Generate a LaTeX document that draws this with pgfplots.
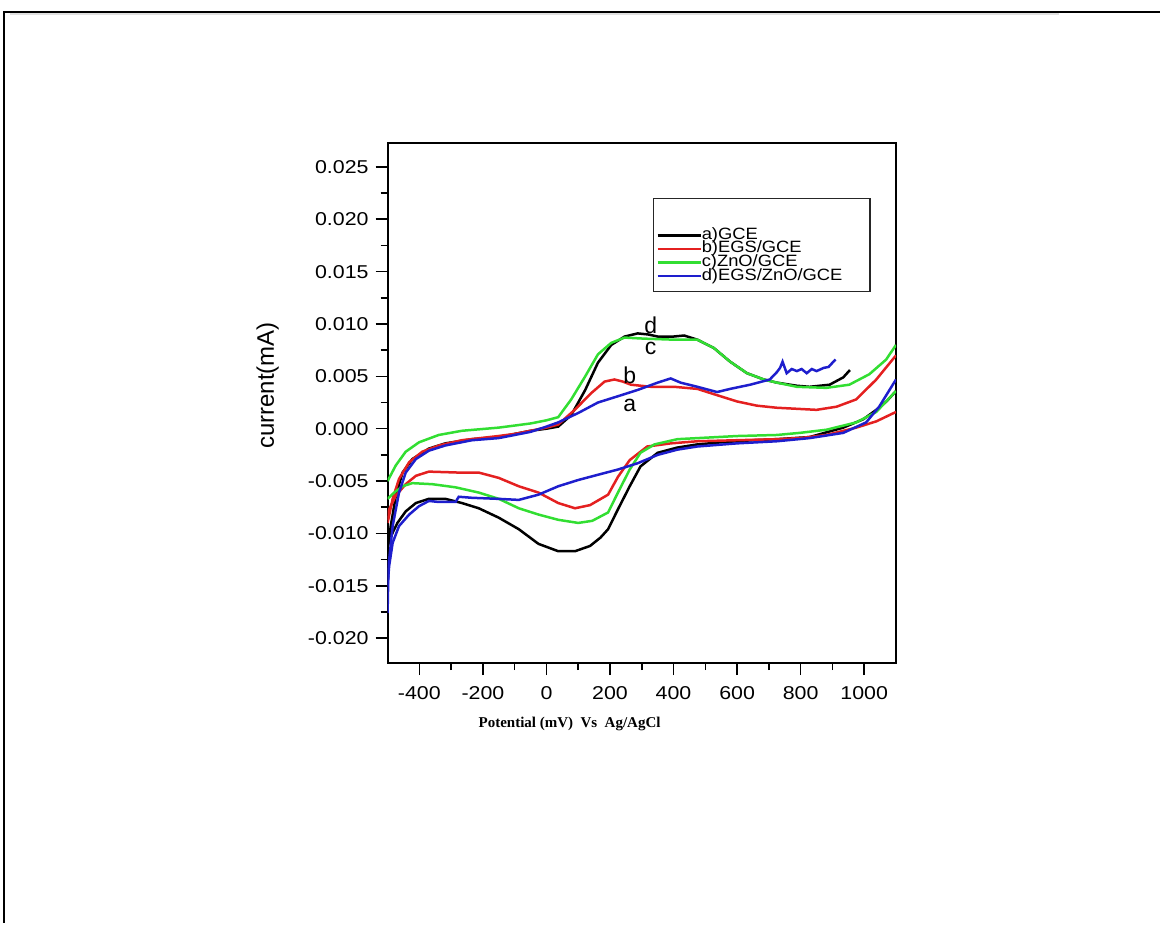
\documentclass[border=0pt]{standalone}
\usepackage{fontspec}
\setmainfont{Liberation Sans}
\newfontfamily\tickfont[FakeStretch=1.15]{Liberation Sans}
\newfontfamily\legfont[FakeStretch=1.12]{Liberation Sans}
\newfontfamily\serifb{Liberation Serif}
\usepackage{pgfplots}
\pgfplotsset{compat=1.18}
\definecolor{cvred}{RGB}{228,32,32}
\definecolor{cvgreen}{RGB}{50,222,50}
\definecolor{cvblue}{RGB}{30,30,205}

\begin{document}
\begin{tikzpicture}
% page frame (1 px = 0.5pt)
\path (0pt,0pt) rectangle (580.5pt,462pt);
\draw[line width=1.3pt] (2pt,0pt) -- (2pt,456pt) -- (580.5pt,456pt);
\draw[black!12,line width=0.8pt] (5pt,455pt) -- (530pt,455pt);
\begin{axis}[
  at={(194pt,130pt)}, anchor=south west,
  scale only axis, width=254.5pt, height=260.5pt,
  xmin=-500, xmax=1100, ymin=-0.0224, ymax=0.0273,
  xtick={-400,-200,0,200,400,600,800,1000},
  ytick={-0.020,-0.015,-0.010,-0.005,0,0.005,0.010,0.015,0.020,0.025},
  minor x tick num=1, minor y tick num=1,
  tick pos=left, tick align=outside,
  major tick length=6pt, minor tick length=3.5pt,
  every tick/.style={black,line width=0.8pt},
  axis line style={line width=1pt},
  scaled y ticks=false,
  /pgf/number format/assume math mode=true,
  /pgf/number format/1000 sep={},
  yticklabel style={/pgf/number format/.cd,fixed,fixed zerofill,precision=3},
  ticklabel style={font=\tickfont\fontsize{9.3}{10}\selectfont},
  xticklabel style={yshift=-2pt},
  ylabel={current(mA)},
  every axis y label/.style={at={(axis description cs:-0.236,0.534)},rotate=90,anchor=center,font=\fontsize{12}{12}\selectfont},
  xlabel={\serifb\bfseries Potential (mV)\ \ Vs\ \ Ag/AgCl},
  every axis x label/.style={at={(axis description cs:0.358,-0.117)},anchor=center,font=\fontsize{7.5}{8}\selectfont},
  legend style={at={(axis description cs:0.528,0.836)}, anchor=north west,
    draw=none, fill=none, inner sep=0pt, row sep=0pt,
    font=\legfont\fontsize{8.2}{7}\selectfont,
    nodes={inner sep=0pt, text height=5.4pt, text depth=1.4pt}},
  legend cell align=left,
  legend image code/.code={\draw[#1,line width=1.2pt] (0pt,0pt) -- (21.5pt,0pt);},
]
% a) GCE
\addplot[black,line width=1.25pt] coordinates {
(-500,-0.0115) (-490,-0.0093) (-474,-0.0064) (-453,-0.0042) (-422,-0.0029)
(-370,-0.0019) (-318,-0.0014) (-234,-0.0010) (-151,-0.0008) (-100,-0.0005)
(-50,-0.0002) (0,0.0000) (37,0.0002) (78,0.0013) (122,0.0037) (162,0.0063)
(204,0.0080) (246,0.0088) (287,0.0091) (320,0.0090) (350,0.0088) (400,0.0088)
(433,0.0089) (475,0.0085) (527,0.0077) (578,0.0064) (631,0.0053) (684,0.0047)
(725,0.0044) (788,0.0041) (828,0.0040) (891,0.0042) (934,0.0049) (955,0.0056)};
\addlegendentry{a)GCE}
\addplot[black,line width=1.25pt,forget plot] coordinates {
(-500,-0.0112) (-490,-0.0103) (-469,-0.0090) (-443,-0.0079) (-411,-0.0071)
(-370,-0.0067) (-318,-0.0067) (-266,-0.0071) (-213,-0.0076) (-150,-0.0085)
(-87,-0.0096) (-25,-0.0110) (37,-0.0117) (90,-0.0117) (137,-0.0112)
(170,-0.0104) (194,-0.0096) (225,-0.0077) (262,-0.0055) (296,-0.0036)
(350,-0.0023) (412,-0.0018) (475,-0.0015) (550,-0.0013) (650,-0.0011)
(725,-0.0010) (828,-0.0008) (934,0.0001) (997,0.0009) (1038,0.0018)
(1070,0.0026) (1100,0.0036)};
% b) EGS/GCE
\addplot[cvred,line width=1.25pt] coordinates {
(-500,-0.0090) (-484,-0.0067) (-464,-0.0048) (-432,-0.0032) (-391,-0.0022)
(-338,-0.0016) (-266,-0.0011) (-151,-0.0007) (-100,-0.0005) (-50,-0.0002)
(0,0.0001) (37,0.0004) (89,0.0018) (141,0.0034) (183,0.0045) (214,0.0047)
(240,0.0045) (266,0.0042) (329,0.0040) (402,0.0040) (475,0.0038) (537,0.0032)
(600,0.0026) (662,0.0022) (725,0.0020) (788,0.0019) (850,0.0018) (913,0.0021)
(975,0.0028) (1038,0.0047) (1100,0.0070)};
\addlegendentry{b)EGS/GCE}
\addplot[cvred,line width=1.25pt,forget plot] coordinates {
(-500,-0.0087) (-495,-0.0077) (-474,-0.0064) (-443,-0.0053) (-411,-0.0045)
(-370,-0.0041) (-266,-0.0042) (-212,-0.0042) (-150,-0.0047) (-87,-0.0055)
(-25,-0.0061) (37,-0.0071) (90,-0.0076) (137,-0.0073) (194,-0.0063)
(225,-0.0046) (262,-0.0030) (317,-0.0017) (392,-0.0014) (475,-0.0012)
(600,-0.0011) (725,-0.0010) (797,-0.0009) (881,-0.0006) (975,0.0001)
(1038,0.0007) (1100,0.0016)};
% c) ZnO/GCE
\addplot[cvgreen,line width=1.25pt] coordinates {
(-500,-0.0050) (-474,-0.0035) (-443,-0.0022) (-401,-0.0013) (-339,-0.0006)
(-266,-0.0002) (-151,0.0001) (-100,0.0003) (-50,0.0005) (0,0.0008)
(37,0.0011) (78,0.0028) (122,0.0050) (162,0.0071) (204,0.0082) (246,0.0087)
(308,0.0086) (402,0.0085) (475,0.0085) (527,0.0077) (578,0.0064) (631,0.0053)
(684,0.0047) (725,0.0044) (788,0.0040) (881,0.0039) (953,0.0042)
(1016,0.0052) (1069,0.0066) (1100,0.0080)};
\addlegendentry{c)ZnO/GCE}
\addplot[cvgreen,line width=1.25pt,forget plot] coordinates {
(-500,-0.0067) (-479,-0.0061) (-453,-0.0055) (-422,-0.0052) (-359,-0.0053)
(-286,-0.0056) (-213,-0.0061) (-150,-0.0067) (-87,-0.0076) (-25,-0.0082)
(37,-0.0087) (100,-0.0090) (144,-0.0088) (194,-0.0080) (225,-0.0061)
(262,-0.0039) (296,-0.0023) (340,-0.0015) (412,-0.0010) (475,-0.0009)
(600,-0.0007) (725,-0.0006) (797,-0.0004) (881,-0.0001) (975,0.0006)
(1038,0.0016) (1100,0.0036)};
% d) EGS/ZnO/GCE
\addplot[cvblue,line width=1.25pt] coordinates {
(-500,-0.0176) (-497,-0.0131) (-484,-0.0093) (-464,-0.0061) (-443,-0.0042)
(-411,-0.0029) (-370,-0.0021) (-318,-0.0016) (-234,-0.0011) (-151,-0.0009)
(-100,-0.0006) (-50,-0.0003) (0,0.0002) (37,0.0006) (100,0.0015) (162,0.0025)
(225,0.0031) (287,0.0037) (350,0.0044) (391,0.0048) (422,0.0044) (475,0.0040)
(537,0.0035) (578,0.0038) (641,0.0042) (703,0.0047) (725,0.0054) (735,0.0058)
(743,0.0064) (756,0.0053) (772,0.0057) (788,0.0055) (803,0.0057) (819,0.0053)
(835,0.0057) (850,0.0055) (872,0.0058) (888,0.0059) (903,0.0064) (910,0.0066)};
\addlegendentry{d)EGS/ZnO/GCE}
\addplot[cvblue,line width=1.25pt,forget plot] coordinates {
(-500,-0.0150) (-495,-0.0131) (-484,-0.0109) (-464,-0.0093) (-432,-0.0082)
(-401,-0.0074) (-370,-0.0069) (-338,-0.0070) (-286,-0.0070) (-276,-0.0065)
(-234,-0.0066) (-151,-0.0067) (-87,-0.0068) (-25,-0.0063) (37,-0.0055)
(100,-0.0049) (162,-0.0044) (225,-0.0039) (287,-0.0033) (350,-0.0025)
(412,-0.0020) (475,-0.0017) (600,-0.0014) (725,-0.0012) (828,-0.0009)
(934,-0.0004) (1006,0.0006) (1047,0.0021) (1100,0.0047)};
% legend frame
\draw[black!85,line width=0.6pt] (axis description cs:0.523,0.714) rectangle (axis description cs:0.949,0.8925);
% curve labels
\node[font=\fontsize{11.5}{12}\selectfont] at (axis cs:328,0.0099) {d};
\node[font=\fontsize{11.5}{12}\selectfont] at (axis cs:328,0.0077) {c};
\node[font=\fontsize{11.5}{12}\selectfont] at (axis cs:262,0.0051) {b};
\node[font=\fontsize{11.5}{12}\selectfont] at (axis cs:262,0.0022) {a};
\end{axis}
\end{tikzpicture}
\end{document}
